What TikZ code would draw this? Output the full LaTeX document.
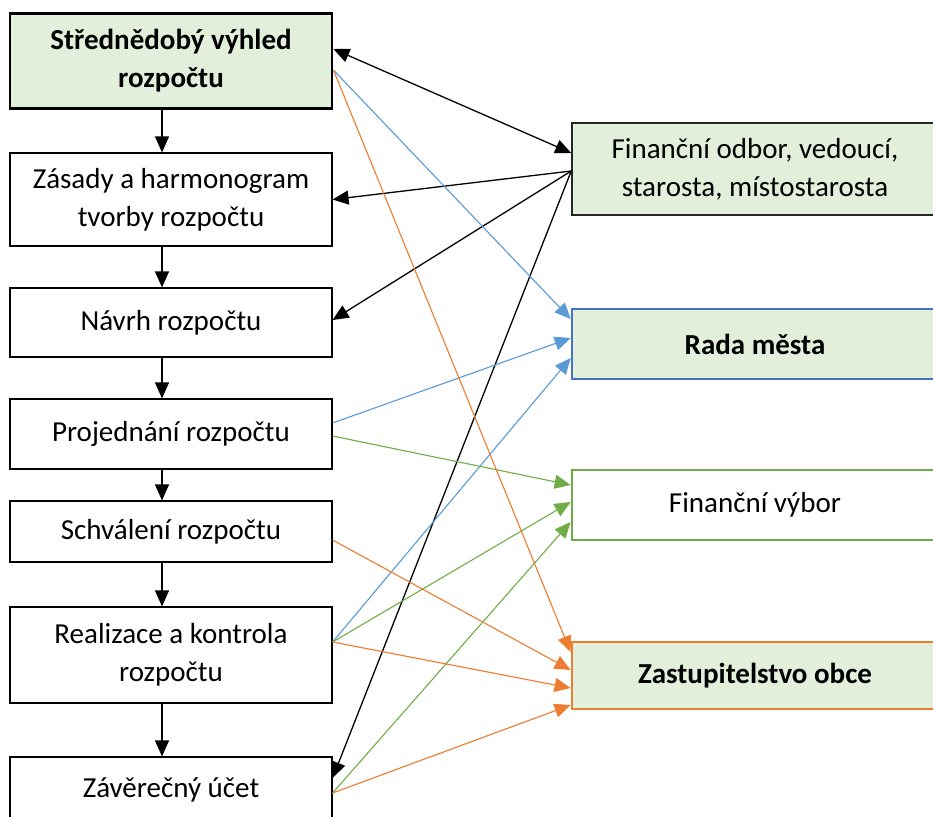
\documentclass[tikz,border=0pt]{standalone}
\usepackage{fontspec}
\setmainfont{Carlito}
\usepackage{xcolor}
\definecolor{bdgFill}{RGB}{226, 239, 218}
\definecolor{bdgBlue}{RGB}{68, 114, 196}
\definecolor{bdgBlueLine}{RGB}{91, 155, 213}
\definecolor{bdgGreen}{RGB}{112, 173, 71}
\definecolor{bdgOrange}{RGB}{237, 125, 49}
\definecolor{bdgDark}{RGB}{38, 38, 38}
\usepackage{tikz}
\usetikzlibrary{
    arrows.meta,
    positioning
}

\begin{document}
\begin{tikzpicture}[
    x=1pt, y=-1pt,
    phaseNode/.style={
        rectangle, draw=black, line width=1.2pt,
        fill=white, text=black,
        align=center, font=\fontsize{29}{38}\selectfont,
        inner sep=0pt, minimum width=322pt
    },
    keyPhaseNode/.style={
        phaseNode, line width=2.8pt,
        fill=bdgFill, font=\fontsize{29}{38}\selectfont\bfseries
    },
    bodyNode/.style={
        rectangle, draw=bdgDark, line width=1.5pt,
        fill=bdgFill, text=black,
        align=center, font=\fontsize{29}{38}\selectfont,
        inner sep=0pt, minimum width=366pt
    },
    flowArrow/.style={
        -{Triangle[length=16pt, width=14pt]}, line width=1.3pt, draw=black
    },
    biFlowArrow/.style={
        {Triangle[length=16pt, width=14pt]}-{Triangle[length=16pt, width=14pt]}, line width=1.3pt, draw=black
    },
    blueArrow/.style={
        -{Triangle[length=16pt, width=14pt]}, line width=1.1pt, draw=bdgBlueLine, fill=bdgBlueLine
    },
    greenArrow/.style={
        -{Triangle[length=16pt, width=14pt]}, line width=1.1pt, draw=bdgGreen, fill=bdgGreen
    },
    orangeArrow/.style={
        -{Triangle[length=16pt, width=14pt]}, line width=1.1pt, draw=bdgOrange, fill=bdgOrange
    }
]

    \useasboundingbox (0, 0) rectangle (933, 816);
    \clip (0, 0) rectangle (933, 816);

    % Left: budget phases
    \node[keyPhaseNode, minimum height=95pt] (plan) at (171, 61) {Střednědobý výhled\\rozpočtu};
    \node[phaseNode, minimum height=93pt] (zasady) at (171, 199.5) {Zásady a harmonogram\\tvorby rozpočtu};
    \node[phaseNode, minimum height=69pt] (navrh) at (171, 322.5) {Návrh rozpočtu};
    \node[phaseNode, minimum height=70pt] (projed) at (171, 434) {Projednání rozpočtu};
    \node[phaseNode, minimum height=61pt] (schval) at (171, 531.5) {Schválení rozpočtu};
    \node[phaseNode, minimum height=96pt] (realiz) at (171, 655) {Realizace a kontrola\\rozpočtu};
    \node[phaseNode, minimum height=66pt] (zaver) at (171, 790) {Závěrečný účet};

    % Right: bodies
    \node[bodyNode, minimum height=92pt] (odbor) at (755, 169) {Finanční odbor, vedoucí,\\starosta, místostarosta};
    \node[bodyNode, draw=bdgBlue, line width=2.6pt, minimum height=70pt,
          font=\fontsize{29}{38}\selectfont\bfseries] (rada) at (755, 344) {Rada města};
    \node[bodyNode, draw=bdgGreen, fill=white, line width=2.8pt, minimum height=70pt] (vybor) at (755, 505) {Finanční výbor};
    \node[bodyNode, draw=bdgOrange, line width=2.8pt, minimum height=67pt,
          font=\fontsize{29}{38}\selectfont\bfseries] (zastup) at (755, 675.5) {Zastupitelstvo obce};

    % Phase sequence
    \draw[flowArrow] ([xshift=-9pt]plan.south) -- ([xshift=-9pt]zasady.north);
    \draw[flowArrow] ([xshift=-9pt]zasady.south) -- ([xshift=-9pt]navrh.north);
    \draw[flowArrow] ([xshift=-9pt]navrh.south) -- ([xshift=-9pt]projed.north);
    \draw[flowArrow] ([xshift=-9pt]projed.south) -- ([xshift=-9pt]schval.north);
    \draw[flowArrow] ([xshift=-9pt]schval.south) -- ([xshift=-9pt]realiz.north);
    \draw[flowArrow] ([xshift=-9pt]realiz.south) -- ([xshift=-9pt]zaver.north);

    % Finance department
    \draw[biFlowArrow] ([yshift=12pt]plan.east) -- ([yshift=16pt]odbor.west);
    \draw[flowArrow] ([yshift=-2pt]odbor.west) -- (zasady.east);
    \draw[flowArrow] ([yshift=-2pt]odbor.west) -- ([yshift=2.5pt]navrh.east);
    \draw[flowArrow] ([yshift=-2pt]odbor.west) -- ([yshift=12pt]zaver.east);

    % Council
    \draw[blueArrow] ([yshift=-9pt]plan.east) -- ([yshift=25pt]rada.west);
    \draw[blueArrow] ([yshift=11pt]projed.east) -- ([yshift=6pt]rada.west);
    \draw[blueArrow] ([yshift=13pt]realiz.east) -- ([yshift=-14pt]rada.west);

    % Finance committee
    \draw[greenArrow] ([yshift=-2pt]projed.east) -- ([yshift=20pt]vybor.west);
    \draw[greenArrow] ([yshift=13pt]realiz.east) -- ([yshift=3pt]vybor.west);
    \draw[greenArrow] ([yshift=-3pt]zaver.east) -- ([yshift=-17pt]vybor.west);

    % Assembly
    \draw[orangeArrow] ([yshift=-9pt]plan.east) -- ([yshift=23.5pt]zastup.west);
    \draw[orangeArrow] ([yshift=-8.5pt]schval.east) -- ([yshift=5.5pt]zastup.west);
    \draw[orangeArrow] ([yshift=13pt]realiz.east) -- ([yshift=-12.5pt]zastup.west);
    \draw[orangeArrow] ([yshift=-3pt]zaver.east) -- ([yshift=-29.5pt]zastup.west);

\end{tikzpicture}
\end{document}
